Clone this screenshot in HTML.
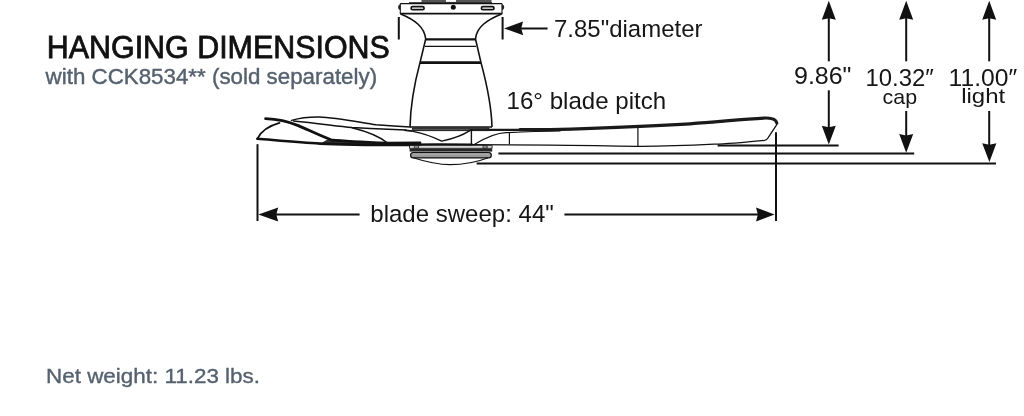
<!DOCTYPE html>
<html><head><meta charset="utf-8">
<style>
html,body{margin:0;padding:0;background:#fff;width:1024px;height:416px;overflow:hidden}
svg{position:absolute;left:0;top:0;display:block;will-change:transform}
text{font-family:"Liberation Sans",sans-serif}
</style></head>
<body>
<svg width="1024" height="416" viewBox="0 0 1024 416">
<rect width="1024" height="416" fill="#fff"/>
<!-- Title -->
<text x="46.8" y="58.4" font-size="31.8" fill="#111" stroke="#111" stroke-width="0.8" textLength="343" lengthAdjust="spacingAndGlyphs">HANGING DIMENSIONS</text>
<text x="45.6" y="84" font-size="21.8" fill="#55616e" stroke="#55616e" stroke-width="0.4" textLength="331.5" lengthAdjust="spacingAndGlyphs">with CCK8534** (sold separately)</text>
<text x="46" y="382.7" font-size="21" fill="#55616e" stroke="#55616e" stroke-width="0.35" textLength="214" lengthAdjust="spacingAndGlyphs">Net weight: 11.23 lbs.</text>

<!-- labels -->
<g fill="#161616" font-size="24.5">
<text x="554" y="37" textLength="148.5" lengthAdjust="spacingAndGlyphs">7.85"diameter</text>
<text x="506.6" y="109.2" textLength="159.5" lengthAdjust="spacingAndGlyphs">16° blade pitch</text>
<text x="370.3" y="222.4" textLength="183.5" lengthAdjust="spacingAndGlyphs">blade sweep: 44"</text>
<text x="794" y="84.4" textLength="57.5" lengthAdjust="spacingAndGlyphs">9.86"</text>
<text x="865.4" y="85.6" textLength="68.3" lengthAdjust="spacingAndGlyphs">10.32″</text>
<text x="948.6" y="85.6" textLength="68.6" lengthAdjust="spacingAndGlyphs">11.00″</text>
</g>
<g fill="#161616" font-size="19.8">
<text x="882.6" y="103.8" textLength="34.5" lengthAdjust="spacingAndGlyphs">cap</text>
<text x="961.2" y="103.2" textLength="44" lengthAdjust="spacingAndGlyphs">light</text>
</g>

<!-- dimension lines -->
<g stroke="#111" stroke-width="2" fill="none">
  <!-- diameter ticks -->
  <line x1="398.8" y1="17" x2="398.8" y2="39.5"/>
  <line x1="502.6" y1="17" x2="502.6" y2="39.5"/>
  <line x1="515" y1="28.4" x2="547.6" y2="28.4"/>
  <!-- blade sweep -->
  <line x1="257.5" y1="144.2" x2="257.5" y2="221"/>
  <line x1="776" y1="132.3" x2="776" y2="221"/>
  <line x1="270" y1="214.5" x2="359.6" y2="214.5"/>
  <line x1="564.4" y1="214.5" x2="764" y2="214.5"/>
  <!-- height shafts -->
  <line x1="828.8" y1="15" x2="828.8" y2="61.3"/>
  <line x1="828.8" y1="90.3" x2="828.8" y2="132"/>
  <line x1="906.2" y1="15" x2="906.2" y2="61.3"/>
  <line x1="906.2" y1="111" x2="906.2" y2="140"/>
  <line x1="989.2" y1="15" x2="989.2" y2="61.3"/>
  <line x1="989.2" y1="111" x2="989.2" y2="149"/>
  <!-- reference lines -->
  <line x1="717.6" y1="145.4" x2="838.6" y2="145.4"/>
  <line x1="498.4" y1="153.6" x2="914.2" y2="153.6"/>
  <line x1="476.6" y1="163.5" x2="996" y2="163.5"/>
</g>
<g fill="#111">
  <!-- arrowheads -->
  <path d="M504.1,28.4 L523,21.6 L521.2,28.4 L523.2,35.3 Z"/>
  <path d="M258.3,214.5 L278.2,207.5 L276.3,214.5 L278.2,221.5 Z"/>
  <path d="M774.6,214.5 L756,207.5 L757.9,214.5 L756,221.5 Z"/>
  <path d="M828.8,0.7 L821.8,19.8 L828.8,18.3 L835.8,19.8 Z"/>
  <path d="M906.2,0.7 L899.2,19.8 L906.2,18.3 L913.2,19.8 Z"/>
  <path d="M989.2,0.7 L982.2,19.8 L989.2,18.3 L996.2,19.8 Z"/>
  <path d="M828.8,144.6 L821.8,125.8 L828.8,127.2 L835.8,125.8 Z"/>
  <path d="M906.2,152.8 L899.2,134 L906.2,135.4 L913.2,134 Z"/>
  <path d="M989.4,162 L982.2,143.3 L989.4,144.7 L996.4,143.3 Z"/>
</g>

<!-- housing -->
<g stroke="#111" fill="none" stroke-width="1.6">
  <rect x="421.5" y="0" width="70" height="2.6" fill="#555" stroke="none"/>
  <rect x="446" y="0" width="10" height="1.9" fill="#fff" stroke="none"/>
  <rect x="409" y="2.2" width="83" height="1.8" fill="#1a1a1a" stroke="none"/>
  <line x1="400.3" y1="3.6" x2="502" y2="3.6" stroke-width="1.1"/>
  <line x1="400.3" y1="3.6" x2="400.3" y2="13.8" stroke-width="1.1"/>
  <line x1="502" y1="3.6" x2="502" y2="13.8" stroke-width="1.1"/>
  <path d="M400.3,4.3 C397.4,5 397.4,9.5 400.3,10.1 Z" fill="#222" stroke="none"/>
  <path d="M502,4.3 C504.9,5 504.9,9.5 502,10.1 Z" fill="#222" stroke="none"/>
  <line x1="400" y1="13.7" x2="502.3" y2="13.7" stroke-width="1.8"/>
  <rect x="411.1" y="6.6" width="13" height="3.1" rx="1.55" stroke-width="1.7"/>
  <rect x="481.4" y="6.6" width="12.6" height="3.1" rx="1.55" stroke-width="1.7"/>
  <circle cx="453.3" cy="7.3" r="2.5" fill="#111" stroke="none"/>
  <path d="M400.8,14 C415,20 424.5,27 425.7,39"/>
  <path d="M501.5,14 C487,20 476.5,27 475.5,39"/>
  <line x1="425.7" y1="39.4" x2="475.5" y2="39.4" stroke-width="2.4"/>
  <path d="M425.7,39 L420,62.6 C414,85 410.5,105 410,127"/>
  <path d="M475.5,39 L481,62.6 C487,85 491.5,105 492,127"/>
  <line x1="425" y1="46.3" x2="476" y2="46.3" stroke-width="1.3"/>
  <line x1="420" y1="62.6" x2="481" y2="62.6" stroke-width="2.9"/>
  <line x1="410" y1="127" x2="492" y2="127" stroke-width="1.3"/>
</g>
<!-- blades -->
<g stroke="#111" fill="none" stroke-width="1.2" stroke-linecap="round" stroke-linejoin="round">
  <!-- left blade dark band -->
  <path d="M328.8,138.7 C340,139.8 360,141.5 388.4,143.1 L420,142.8 L420,145.6 L388.4,145.2 L349.3,145.1 L320,143.8 Z" fill="#333" stroke="none"/>
  <path d="M265.6,118.7 C278,119.2 288,121.5 298.3,125.6 C311,131.2 321,136 331,139.8 C345,141.3 360,142 388.4,143.1 L420,142.8" stroke-width="2.8"/>
  <path d="M257.4,138.8 C275,140.2 300,142.5 320,143.6 C340,144.8 370,145.1 420,145" stroke-width="2.6"/>
  <path d="M405,144.6 C425,144.2 445,144 472,144.6" stroke-width="2.2"/>
  <path d="M257.4,138.6 C261,131 268,126 279.5,122.8" stroke-width="1.8"/>
  <path d="M291.5,120.4 C300,118 310,117 319,117.1 C335,117.5 355,121.5 376,124.8 C390,126 400,126.6 410,127" stroke-width="1.5"/>
  <path d="M293.5,120.9 C315,123 335,125.8 352,127.6 C370,128.5 390,129.2 406,130" stroke-width="1.5"/>
  <path d="M352,127.8 C365,131 380,137 387.6,143" stroke-width="1.5"/>
  <path d="M405,129.4 L413,130.2 L412,132 L404,131 Z" fill="#111" stroke="none"/>
  <!-- base plate -->
  <rect x="412.8" y="128" width="76" height="2.6" fill="#555" stroke="#111" stroke-width="0.9"/>
  <!-- V curve -->
  <path d="M412.8,131.4 C422,133 433,137 441.7,141.1 C452,139 463,135 469.8,130.6" stroke-width="1.4"/>
  <line x1="471.4" y1="129.8" x2="471.4" y2="144.7" stroke-width="1.4"/>
  <!-- right blade -->
  <path d="M470,129.8 L550,129.9 C600,128.4 650,126.5 690,124.1 C720,122 745,119.3 766,118.3 C773,118.2 777.5,120.5 776.6,124.8 L768.5,137.2 C767.5,139 766.5,140 764.5,140.3 C740,142.8 722,144 714,144.2 C690,145.4 660,146.4 637,146.3 C600,146 580,145.2 550,145.2 L472,144.7" stroke-width="1.3"/>
  <path d="M488,129.8 L520,129.8" stroke-width="2.2" stroke="#1a1a1a"/>
  <path d="M520,129.7 L550,129.6 C600,128.1 650,126.2 690,123.8 C720,121.7 745,119 766,118 C772,117.9 776,119.5 776.8,123" stroke-width="3.2" stroke="#1a1a1a"/>
  <path d="M473.8,144.7 C485,138 495,133 506,132.7 C525,131.8 545,131.2 560,131" stroke-width="1.2"/>
  <line x1="509.4" y1="133.4" x2="509.4" y2="143.8" stroke-width="1.2"/>
  <line x1="637.9" y1="127.6" x2="637.9" y2="146.3" stroke-width="1.2"/>
  <!-- light kit -->
  <rect x="409.9" y="145.7" width="82.2" height="2.5" fill="#fff" stroke-width="0.9"/>
  <rect x="414.7" y="145.6" width="3.8" height="2.6" fill="#999" stroke-width="0.7"/>
  <rect x="483.4" y="145.6" width="3.8" height="2.6" fill="#999" stroke-width="0.7"/>
  <rect x="409.6" y="148.4" width="82.6" height="3.2" fill="#262626" stroke="none"/>
  <rect x="410.6" y="152.6" width="80.7" height="5.3" rx="2.6" fill="#9a9a9a" stroke-width="1.2"/>
  <line x1="413" y1="153.9" x2="489" y2="153.9" stroke="#c8c8c8" stroke-width="0.8"/>
  <path d="M414,158 C428,162.5 440,164.6 450,164.6 C462,164.6 476,162.5 487.5,158" stroke-width="1.2"/>
</g>
</svg>
</body></html>
